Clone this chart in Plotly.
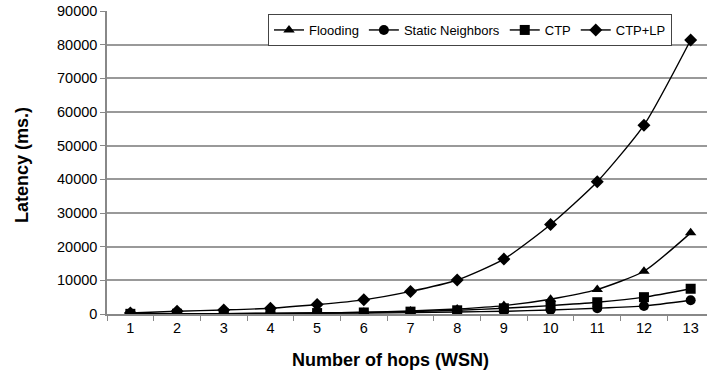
import plotly.graph_objects as go

hops = [str(i) for i in range(1, 14)]
flooding = [50, 80, 120, 200, 300, 500, 900, 1500, 2500, 4400, 7300, 12700, 24100]
static_neighbors = [40, 70, 100, 150, 220, 300, 400, 600, 800, 1200, 1700, 2400, 4100]
ctp = [50, 80, 120, 180, 280, 450, 700, 1100, 1700, 2500, 3500, 5000, 7500]
ctp_lp = [300, 800, 1200, 1700, 2800, 4200, 6700, 10100, 16300, 26600, 39300, 56100, 81400]

series = [
    ("Flooding", flooding, "triangle-up"),
    ("Static Neighbors", static_neighbors, "circle"),
    ("CTP", ctp, "square"),
    ("CTP+LP", ctp_lp, "diamond"),
]

W, H = 707, 379
L, T = 107, 11
BOT = 314
B = H - BOT
PW, PH = W - L, BOT - T

fig = go.Figure()
for name, vals, sym in series:
    fig.add_trace(go.Scatter(
        x=hops, y=vals, name=name, mode="lines+markers",
        line=dict(color="black", width=1.4, shape="spline", smoothing=0.6),
        marker=dict(symbol=sym, size=10, color="black"),
    ))

fig.update_layout(
    width=W, height=H,
    margin=dict(l=L, r=0, t=T, b=B, autoexpand=False),
    paper_bgcolor="white", plot_bgcolor="white",
    font=dict(family="Liberation Sans, Arial, sans-serif", color="black", size=14.5),
    showlegend=True,
    legend=dict(
        orientation="h", xref="paper", yref="paper",
        x=(470 - L) / PW, xanchor="center", y=1 - (14 - T) / PH, yanchor="top",
        bgcolor="white", bordercolor="#444", borderwidth=1,
        font=dict(size=13), itemwidth=30, tracegroupgap=0,
    ),
    xaxis=dict(
        type="category", range=[-0.5, 12.35], automargin=False,
        tickson="boundaries", ticks="outside", ticklen=5, tickcolor="#888",
        showline=True, linecolor="#888", linewidth=1.5,
        showgrid=False, zeroline=False,
    ),
    yaxis=dict(
        range=[0, 90000], dtick=10000, tickformat="d", automargin=False,
        ticks="outside", ticklen=5, tickcolor="#888", ticklabeloverflow="allow",
        showline=True, linecolor="#888", linewidth=1.5,
        showgrid=True, gridcolor="#999", gridwidth=1.5, zeroline=False,
    ),
    annotations=[
        dict(
            text="<b>Number of hops (WSN)</b>", xref="paper", yref="paper",
            x=(390 - L) / PW, y=-(360 - BOT) / PH, xanchor="center", yanchor="middle",
            showarrow=False, font=dict(size=18),
        ),
        dict(
            text="<b>Latency (ms.)</b>", xref="paper", yref="paper",
            x=-(L - 22) / PW, y=1 - (165 - T) / PH, xanchor="center", yanchor="middle",
            textangle=-90, showarrow=False, font=dict(size=18),
        ),
    ],
)

fig.write_html("out.html", config={"displayModeBar": False},
               post_script="document.body.style.margin='0';")
